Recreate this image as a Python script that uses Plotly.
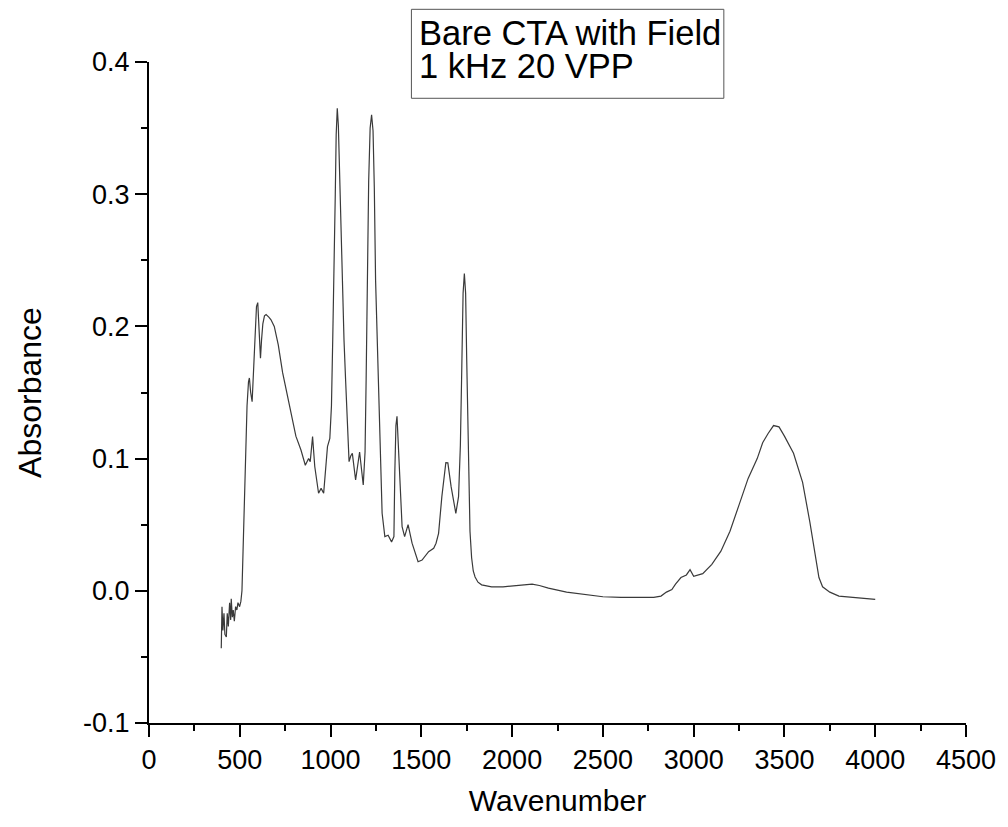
import plotly.graph_objects as go

# Data
wavenumber = [
    398, 402, 407, 413, 418, 426, 431, 437, 444, 450, 453, 459, 464, 470, 477, 484, 490, 499, 506,
    512, 518, 525, 532, 540, 548, 553, 560, 568, 577, 585, 592, 599, 606, 614, 620, 627, 636, 645,
    660, 672, 690, 712, 736, 772, 809, 837, 861, 879, 888, 901, 913, 934, 948, 962, 983, 996, 1005,
    1012, 1019, 1026, 1031, 1037, 1043, 1050, 1058, 1065, 1074, 1083, 1095, 1102, 1111, 1120, 1138,
    1160, 1180, 1190, 1196, 1202, 1210, 1218, 1226, 1234, 1241, 1248, 1257, 1266, 1275, 1284, 1299,
    1317, 1336, 1349, 1354, 1360, 1366, 1372, 1381, 1394, 1408, 1427, 1449, 1482, 1504, 1540, 1568,
    1581, 1595, 1613, 1635, 1646, 1664, 1690, 1705, 1715, 1723, 1730, 1737, 1744, 1750, 1756, 1762,
    1768, 1777, 1786, 1796, 1812, 1832, 1860, 1887, 1950, 2020, 2080, 2110, 2150, 2200, 2300, 2400,
    2500, 2600, 2700, 2780, 2820, 2850, 2880, 2900, 2930, 2960, 2980, 3000, 3050, 3100, 3150, 3200,
    3250, 3300, 3350, 3380, 3410, 3440, 3470, 3500, 3550, 3600, 3640, 3670, 3690, 3710, 3750, 3800,
    3900, 4000,
]
absorbance = [
    -0.0435, -0.012, -0.030, -0.017, -0.033, -0.035, -0.017, -0.027, -0.009, -0.022, -0.006, -0.020,
    -0.0145, -0.023, -0.012, -0.0145, -0.009, -0.012, -0.008,
    0.000, 0.030, 0.070, 0.110, 0.140, 0.158, 0.161, 0.150, 0.143, 0.170, 0.200, 0.215, 0.218,
    0.195, 0.176, 0.190, 0.202, 0.208, 0.209,
    0.207, 0.205, 0.200, 0.186, 0.165, 0.140, 0.117, 0.1065, 0.095, 0.100, 0.0977, 0.1166, 0.094,
    0.0738, 0.0775, 0.0738, 0.109, 0.1153, 0.140,
    0.190, 0.235, 0.300, 0.345, 0.365, 0.352, 0.315, 0.265, 0.235, 0.190, 0.159, 0.115, 0.0977,
    0.102, 0.104, 0.0838,
    0.105, 0.080, 0.105, 0.160, 0.235, 0.310, 0.350, 0.360, 0.348, 0.305, 0.235, 0.190, 0.134,
    0.090, 0.0586, 0.041,
    0.042, 0.037, 0.041, 0.090, 0.125, 0.132, 0.115, 0.0838, 0.0485, 0.041, 0.050, 0.036, 0.022,
    0.0233, 0.0296, 0.0321,
    0.036, 0.0435, 0.0712, 0.097, 0.0968, 0.0788, 0.0586, 0.0712, 0.110, 0.170, 0.225, 0.240,
    0.225, 0.175, 0.120, 0.075,
    0.045, 0.025, 0.015, 0.0105, 0.0065, 0.0045, 0.0035, 0.003, 0.003, 0.004, 0.0045, 0.005,
    0.004, 0.002, -0.001, -0.003,
    -0.0045, -0.005, -0.005, -0.005, -0.004, -0.001, 0.001, 0.005, 0.010, 0.012, 0.016, 0.011,
    0.013, 0.020, 0.030, 0.045, 0.065,
    0.085, 0.100, 0.112, 0.119, 0.125, 0.124, 0.117, 0.104, 0.082, 0.052, 0.025, 0.010, 0.003,
    -0.001, -0.004, -0.0055,
    -0.0065, -0.007,
]

legend_lines = ["Bare CTA with Field", "1 kHz 20 VPP"]
x_ticks = [0, 500, 1000, 1500, 2000, 2500, 3000, 3500, 4000, 4500]
y_ticks = [-0.1, 0.0, 0.1, 0.2, 0.3, 0.4]

font_family = "Liberation Sans, Arial, sans-serif"

fig = go.Figure()
fig.add_trace(go.Scatter(
    x=wavenumber, y=absorbance, mode="lines",
    line=dict(color="#3a3a3a", width=1.2),
    showlegend=False,
))

fig.update_layout(
    width=1008, height=827,
    margin=dict(l=149, r=38, t=62, b=104),
    paper_bgcolor="white", plot_bgcolor="white",
    font=dict(family=font_family, color="black"),
    xaxis=dict(
        range=[0, 4500], tickvals=x_ticks, ticktext=[str(v) for v in x_ticks],
        showline=True, linecolor="black", linewidth=2, mirror=False,
        ticks="outside", ticklen=12, tickwidth=2, tickcolor="black",
        minor=dict(dtick=250, ticks="outside", ticklen=6, tickwidth=2, tickcolor="black", showgrid=False),
        showgrid=False, zeroline=False,
        tickfont=dict(size=27, family=font_family),
        title=dict(text="Wavenumber", font=dict(size=30, family=font_family), standoff=16),
    ),
    yaxis=dict(
        range=[-0.1, 0.4], tickvals=y_ticks, ticktext=["%.1f" % v for v in y_ticks],
        showline=True, linecolor="black", linewidth=2, mirror=False,
        ticks="outside", ticklen=12, tickwidth=2, tickcolor="black",
        minor=dict(dtick=0.05, ticks="outside", ticklen=6, tickwidth=2, tickcolor="black", showgrid=False),
        showgrid=False, zeroline=False,
        tickfont=dict(size=27, family=font_family),
        title=dict(text="Absorbance", font=dict(size=32, family=font_family), standoff=32),
    ),
)

# legend box drawn as a frame with two text lines
box_x0, box_x1, box_y0, box_y1 = 0.3212, 0.7036, 0.9451, 1.0797
fig.add_shape(
    type="rect", xref="paper", yref="paper",
    x0=box_x0, x1=box_x1, y0=box_y0, y1=box_y1,
    line=dict(color="#555555", width=1), fillcolor="white", layer="above",
)
for text, ypos in zip(legend_lines, [1.0440, 0.9940]):
    fig.add_annotation(
        xref="paper", yref="paper", x=0.3292, y=ypos,
        xanchor="left", yanchor="middle", align="left",
        text=text, showarrow=False, borderpad=0,
        font=dict(size=34.5, family=font_family, color="black"),
    )

fig.write_html("out.html")
